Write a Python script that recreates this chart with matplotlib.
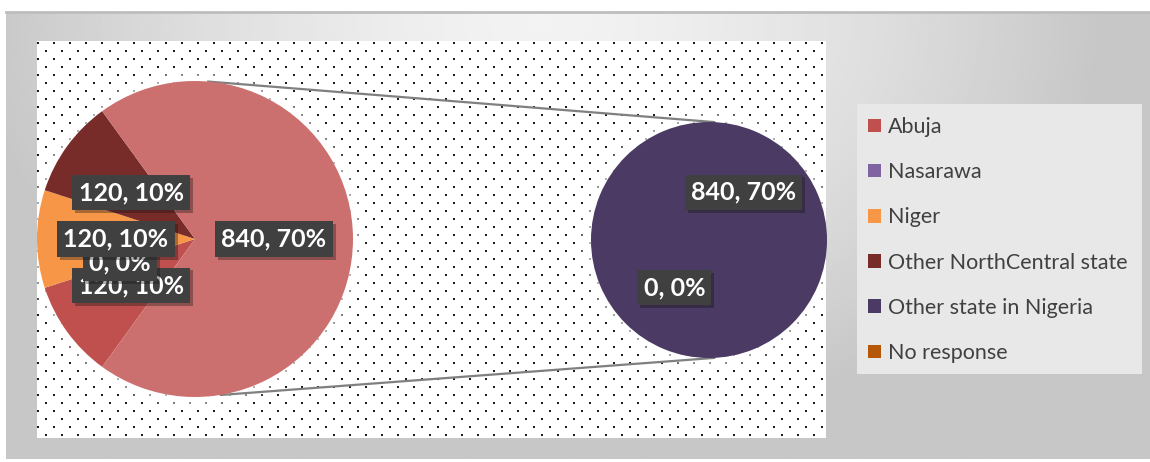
import numpy as np
import matplotlib.pyplot as plt
from matplotlib.patches import Rectangle, Patch, Circle
from matplotlib import patheffects as pe

plt.rcParams['font.family'] = ['Lato', 'DejaVu Sans']

categories = ["Abuja", "Nasarawa", "Niger", "Other NorthCentral state",
              "Other state in Nigeria", "No response"]
counts = [120, 0, 120, 120, 840, 0]
colors = ["#C0504D", "#8064A2", "#F79646", "#772C2A", "#4B3A63", "#B65708"]
other_color = "#CC706F"
n_main = 4  # the rest get split out into the second pie

total = sum(counts)


def value_label(v):
    return f"{v}, {v / total:.0%}"


W, H = 1150, 462
fig = plt.figure(figsize=(W / 100, H / 100), dpi=100)
ax = fig.add_axes([0, 0, 1, 1])

# grey chart area with a soft radial gradient
gx0, gx1, gy0, gy1 = 6, 1150, 3, 450
xx, yy = np.meshgrid(np.linspace(gx0, gx1, 500), np.linspace(gy0, gy1, 200))
d = np.sqrt(((xx - 540) / 560) ** 2 + ((yy - 440) / 420) ** 2)
shade = 0.95 - 0.17 * np.clip(d, 0, 1.0) ** 1.5
ax.imshow(shade, extent=(gx0, gx1, gy0, gy1), origin='lower', cmap='gray',
          vmin=0, vmax=1, zorder=0, interpolation='bilinear', aspect='auto')
ax.plot([gx0, gx1], [gy1, gy1], color='#BDBDBD', lw=2, zorder=0.5)

# dotted plot area
px0, py0, pw, ph = 37, 24, 789, 397
plot_area = Rectangle((px0, py0), pw, ph, fc='white', ec='none', zorder=1)
ax.add_patch(plot_area)
dx, dy = [], []
for i, y in enumerate(np.arange(py0 + ph - 2, py0, -8)):
    xs = np.arange(px0 + 8 * (i % 2) + 1, px0 + pw, 16)
    dx.extend(xs)
    dy.extend([y] * len(xs))
ax.scatter(dx, dy, s=4, marker='s', c='#1A1A1A', linewidths=0, zorder=1.5)

c1, r1 = (195, 223), 158
c2, r2 = (709, 222), 118

# white glow under both pies, kept inside the plot area
for c, r in [(c1, r1), (c2, r2)]:
    for k in range(1, 14):
        g = Circle(c, r + k, fc='white', ec='none', alpha=0.09, zorder=2)
        ax.add_patch(g)
        g.set_clip_path(plot_area)

main_vals = counts[:n_main] + [sum(counts[n_main:])]
main_cols = colors[:n_main] + [other_color]
w1, _ = ax.pie(main_vals, colors=main_cols, center=c1, radius=r1, startangle=234,
               counterclock=False, frame=True, wedgeprops=dict(linewidth=0))
w2, _ = ax.pie(counts[n_main:], colors=colors[n_main:], center=c2, radius=r2,
               startangle=234, counterclock=False, frame=True,
               wedgeprops=dict(linewidth=0))
for w in w1 + w2:
    w.set_zorder(3)

# connector lines between the pies
for a1, a2 in [(85.6, 87), (-81, -87)]:
    p1 = (c1[0] + r1 * np.cos(np.radians(a1)), c1[1] + r1 * np.sin(np.radians(a1)))
    p2 = (c2[0] + r2 * np.cos(np.radians(a2)), c2[1] + r2 * np.sin(np.radians(a2)))
    ax.plot([p1[0], p2[0]], [p1[1], p2[1]], color='#808080', lw=1.6, zorder=2.5,
            solid_capstyle='butt')


def put_label(wedge, c, r, v):
    mid = np.radians((wedge.theta1 + wedge.theta2) / 2)
    t = ax.text(c[0] + 0.5 * r * np.cos(mid), c[1] + 0.5 * r * np.sin(mid),
                value_label(v), ha='center', va='center', color='white',
                fontsize=18, fontweight='bold', zorder=5,
                bbox=dict(boxstyle='square,pad=0.25', fc='#404040', ec='none'))
    t.get_bbox_patch().set_path_effects(
        [pe.SimplePatchShadow(offset=(2, -2), alpha=0.35), pe.Normal()])


for w, v in zip(w1, main_vals):
    put_label(w, c1, r1, v)
for w, v in zip(w2, counts[n_main:]):
    put_label(w, c2, r2, v)

# legend panel
ax.add_patch(Rectangle((857, 88), 285, 270, fc='#E8E8E8', ec='none', zorder=1))
handles = [Patch(fc=col, ec='none') for col in colors]
ax.legend(handles, categories, loc='upper left', bbox_to_anchor=(868, 462 - 117),
          bbox_transform=ax.transData, frameon=False, fontsize=15.5,
          labelcolor='#404040', handlelength=0.6, handleheight=0.6,
          handletextpad=0.33, labelspacing=1.17, borderpad=0, borderaxespad=0)

ax.set_xlim(0, W)
ax.set_ylim(0, H)
ax.set_aspect('auto')
ax.axis('off')

fig.savefig('out.png', dpi=100, facecolor='white')
